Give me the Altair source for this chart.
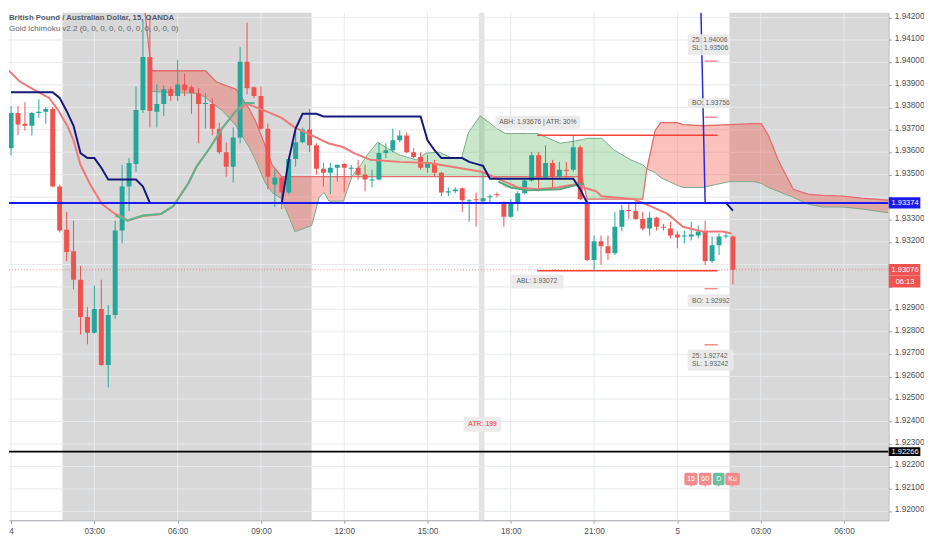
import altair as alt
import pandas as pd

FONT = "Liberation Sans, Arial, sans-serif"
GREEN = "#26a69a"
RED = "#ef5350"

# ---------------- data ----------------
bars = list(range(105))
opens = [1.93618, 1.93775, 1.93727, 1.93718, 1.93775, 1.93780, 1.93793, 1.93447, 1.93255, 1.93159,
         1.93032, 1.92866, 1.92796, 1.92901, 1.92652, 1.92875, 1.93251, 1.93447, 1.93548, 1.93788,
         1.94024, 1.93780, 1.93815, 1.93880, 1.93850, 1.93902, 1.93889, 1.93863, 1.93815, 1.93815,
         1.93705, 1.93600, 1.93535, 1.93666, 1.94003, 1.93889, 1.93850, 1.93705, 1.93456, 1.93487,
         1.93421, 1.93570, 1.93644, 1.93701, 1.93631, 1.93526, 1.93509, 1.93531, 1.93548, 1.93526,
         1.93531, 1.93500, 1.93474, 1.93478, 1.93596, 1.93609, 1.93653, 1.93675, 1.93600, 1.93579,
         1.93531, 1.93552, 1.93509, 1.93421, 1.93426, 1.93439, 1.93382, 1.93391, 1.93382, 1.93399,
         1.93413, 1.93378, 1.93312, 1.93369, 1.93417, 1.93474, 1.93587, 1.93487, 1.93552, 1.93491,
         1.93522, 1.93522, 1.93622, 1.93378, 1.93120, 1.93203, 1.93181, 1.93150, 1.93268, 1.93343,
         1.93338, 1.93303, 1.93260, 1.93308, 1.93268, 1.93260, 1.93233, 1.93225, 1.93225, 1.93229,
         1.93247, 1.93115, 1.93185, 1.93225, 1.93225]
highs = [1.93806, 1.93806, 1.93823, 1.93780, 1.93836, 1.93801, 1.93801, 1.93456, 1.93334, 1.93295,
         1.93094, 1.92910, 1.93006, 1.93032, 1.92919, 1.93295, 1.93544, 1.93574, 1.93893, 1.94186,
         1.94208, 1.93902, 1.93898, 1.93893, 1.94011, 1.93950, 1.93898, 1.93885, 1.93863, 1.93841,
         1.93732, 1.93644, 1.93710, 1.94068, 1.94177, 1.93893, 1.93893, 1.93727, 1.93522, 1.93491,
         1.93579, 1.93697, 1.93710, 1.93793, 1.93640, 1.93552, 1.93552, 1.93544, 1.93552, 1.93544,
         1.93566, 1.93544, 1.93522, 1.93644, 1.93640, 1.93705, 1.93697, 1.93688, 1.93618, 1.93600,
         1.93587, 1.93566, 1.93513, 1.93443, 1.93443, 1.93443, 1.93391, 1.93421, 1.93513, 1.93413,
         1.93421, 1.93382, 1.93391, 1.93426, 1.93478, 1.93600, 1.93600, 1.93631, 1.93566, 1.93557,
         1.93557, 1.93675, 1.93631, 1.93391, 1.93229, 1.93229, 1.93229, 1.93334, 1.93365, 1.93378,
         1.93382, 1.93334, 1.93334, 1.93312, 1.93281, 1.93290, 1.93247, 1.93251, 1.93290, 1.93273,
         1.93295, 1.93225, 1.93238, 1.93247, 1.93229]
lows = [1.93587, 1.93675, 1.93697, 1.93675, 1.93753, 1.93727, 1.93443, 1.93242, 1.93115, 1.92989,
        1.92788, 1.92744, 1.92792, 1.92648, 1.92552, 1.92858, 1.93194, 1.93338, 1.93513, 1.93775,
        1.93710, 1.93710, 1.93762, 1.93828, 1.93828, 1.93850, 1.93771, 1.93640, 1.93705, 1.93675,
        1.93592, 1.93491, 1.93465, 1.93640, 1.93858, 1.93841, 1.93697, 1.93434, 1.93356, 1.93347,
        1.93413, 1.93535, 1.93640, 1.93600, 1.93500, 1.93447, 1.93413, 1.93469, 1.93421, 1.93491,
        1.93478, 1.93426, 1.93443, 1.93474, 1.93574, 1.93600, 1.93644, 1.93596, 1.93574, 1.93522,
        1.93509, 1.93491, 1.93404, 1.93404, 1.93417, 1.93334, 1.93290, 1.93268, 1.93378, 1.93369,
        1.93399, 1.93268, 1.93308, 1.93338, 1.93413, 1.93469, 1.93426, 1.93478, 1.93443, 1.93487,
        1.93487, 1.93513, 1.93386, 1.93115, 1.93076, 1.93098, 1.93120, 1.93142, 1.93247, 1.93303,
        1.93299, 1.93251, 1.93229, 1.93251, 1.93251, 1.93216, 1.93172, 1.93194, 1.93207, 1.93216,
        1.93098, 1.93107, 1.93142, 1.93216, 1.93011]
closes = [1.93775, 1.93723, 1.93718, 1.93775, 1.93780, 1.93793, 1.93447, 1.93251, 1.93155, 1.93032,
          1.92866, 1.92796, 1.92901, 1.92652, 1.92875, 1.93251, 1.93447, 1.93552, 1.93788, 1.94024,
          1.93784, 1.93815, 1.93880, 1.93850, 1.93902, 1.93876, 1.93863, 1.93815, 1.93819, 1.93705,
          1.93600, 1.93535, 1.93666, 1.94003, 1.93885, 1.93850, 1.93705, 1.93491, 1.93487, 1.93421,
          1.93570, 1.93644, 1.93701, 1.93631, 1.93526, 1.93509, 1.93531, 1.93544, 1.93531, 1.93531,
          1.93500, 1.93478, 1.93478, 1.93596, 1.93609, 1.93653, 1.93675, 1.93600, 1.93579, 1.93531,
          1.93552, 1.93509, 1.93421, 1.93426, 1.93434, 1.93386, 1.93386, 1.93386, 1.93395, 1.93404,
          1.93408, 1.93312, 1.93369, 1.93417, 1.93474, 1.93587, 1.93487, 1.93552, 1.93491, 1.93522,
          1.93517, 1.93622, 1.93391, 1.93120, 1.93203, 1.93181, 1.93150, 1.93268, 1.93343, 1.93338,
          1.93303, 1.93260, 1.93308, 1.93268, 1.93264, 1.93229, 1.93220, 1.93229, 1.93233, 1.93247,
          1.93115, 1.93185, 1.93225, 1.93229, 1.93076]

x_tick_pos = [0, 12, 24, 36, 48, 60, 72, 84, 96, 108, 120]
x_tick_labels = ["4", "03:00", "06:00", "09:00", "12:00", "15:00", "18:00", "21:00", "5", "03:00", "06:00"]
y_ticks = [1.920, 1.921, 1.922, 1.923, 1.924, 1.925, 1.926, 1.927, 1.928, 1.929, 1.930, 1.931,
           1.932, 1.933, 1.934, 1.935, 1.936, 1.937, 1.938, 1.939, 1.940, 1.941, 1.942]
y_ticks_hidden = [1.934, 1.931, 1.930]   # covered by the price-scale labels

kijun = [1.93867, 1.93867, 1.93867, 1.93867, 1.93867, 1.93867, 1.93867, 1.93842, 1.93784, 1.93718,
         1.93596, 1.93574, 1.93574, 1.93531, 1.93478, 1.93478, 1.93478, 1.93478, 1.93478, 1.93447,
         1.93374, 1.93374, 1.93374, 1.93374, 1.93374, 1.93374, 1.93374, 1.93374, 1.93374, 1.93374,
         1.93374, 1.93374, 1.93374, 1.93374, 1.93374, 1.93374, 1.93374, 1.93374, 1.93374, 1.93374,
         1.93566, 1.93705, 1.93771, 1.93771, 1.93771, 1.93759, 1.93759, 1.93759, 1.93759, 1.93759,
         1.93759, 1.93759, 1.93759, 1.93759, 1.93759, 1.93759, 1.93759, 1.93759, 1.93759, 1.93759,
         1.93653, 1.93609, 1.93574, 1.93574, 1.93574, 1.93574, 1.93557, 1.93548, 1.93539, 1.93482,
         1.93482, 1.93482, 1.93482, 1.93482, 1.93482, 1.93482, 1.93482, 1.93482, 1.93482, 1.93482,
         1.93482, 1.93482, 1.93435, 1.93374, 1.93374, 1.93374, 1.93374, 1.93374, 1.93374, 1.93374,
         1.93374, 1.93374, 1.93374, 1.93374, 1.93374, 1.93374, 1.93374, 1.93374, 1.93374, 1.93374,
         1.93374, 1.93374, 1.93374, 1.93374, 1.93340]

tenkan_i = [-0.6, 1.25, 2.9, 4.0, 5.5, 6.7, 8.1, 9.0, 10.0, 11.4, 13.1, 15.0, 15.9, 16.8, 19.0, 21.6,
            23.4, 25.6, 26.7, 28.7, 30.5, 32.4, 34.1, 36.6, 39.0, 40.9, 42.8, 45.7, 47.9, 49.4, 51.8,
            56.0, 60.3, 67.8, 69.8, 73.0, 75.9, 78.7, 81.1, 82.5, 84.3, 85.1, 89.7, 92.1, 94.6, 96.8,
            99.6, 102.5, 103.8]
tenkan_p = [1.93972, 1.93915, 1.93886, 1.93867, 1.93842, 1.93791, 1.93718, 1.93653, 1.93544, 1.93456,
            1.93369, 1.93325, 1.93312, 1.93295, 1.93316, 1.93325, 1.93360, 1.93465, 1.93535, 1.93622,
            1.93710, 1.93784, 1.93815, 1.93784, 1.93753, 1.93710, 1.93683, 1.93640, 1.93622, 1.93596,
            1.93566, 1.93557, 1.93552, 1.93513, 1.93487, 1.93443, 1.93435, 1.93443, 1.93456, 1.93443,
            1.93426, 1.93404, 1.93391, 1.93360, 1.93325, 1.93268, 1.93247, 1.93247, 1.93238]

rise_i = [15.0, 16.8, 19.0, 21.6, 23.4, 25.6, 26.7, 28.7, 30.5, 32.4, 33.6, 35.1]
rise_p = [1.93318, 1.93296, 1.93318, 1.93325, 1.93361, 1.93464, 1.93535, 1.93622, 1.93710, 1.93784,
          1.93819, 1.93819]

lag_i = [70.2, 72.0, 74.4, 79.1, 81.1, 82.5]
lag_p = [1.93469, 1.93443, 1.93430, 1.93435, 1.93452, 1.93461]

spike_i = [99.4, 100.0]
spike_p = [1.94221, 1.93374]

cloud1_i = [20.3, 22.7, 26.7, 28.0, 29.5, 30.5, 32.4, 34.3, 35.2, 36.6, 37.6, 39.0, 40.9, 43.3, 44.4,
            45.1, 45.8, 47.9, 49.1]
cloud1_top = [1.93963, 1.93963, 1.93963, 1.93963, 1.93915, 1.93902, 1.93880, 1.93793, 1.93740, 1.93631,
              1.93544, 1.93491, 1.93491, 1.93491, 1.93491, 1.93491, 1.93491, 1.93491, 1.93491]
cloud1_bot = [1.93871, 1.93867, 1.93863, 1.93845, 1.93806, 1.93784, 1.93718, 1.93622, 1.93566, 1.93465,
              1.93421, 1.93391, 1.93246, 1.93273, 1.93399, 1.93421, 1.93382, 1.93382, 1.93491]

cloud2_i = [49.1, 50.4, 51.3, 52.8, 54.2, 56.0, 58.4, 59.8, 61.7, 63.5, 64.9, 65.9, 67.6, 69.8, 71.2,
            72.0, 74.4, 75.9, 79.1, 81.1, 82.5, 83.0, 85.1, 86.9, 89.3, 91.0, 91.6]
cloud2_top = [1.93491, 1.93544, 1.93587, 1.93644, 1.93618, 1.93587, 1.93566, 1.93596, 1.93600, 1.93574,
              1.93574, 1.93688, 1.93762, 1.93710, 1.93683, 1.93683, 1.93683, 1.93683, 1.93640, 1.93649,
              1.93657, 1.93662, 1.93662, 1.93609, 1.93566, 1.93544, 1.93526]
cloud2_bot = [1.93491, 1.93491, 1.93491, 1.93491, 1.93491, 1.93491, 1.93491, 1.93491, 1.93491, 1.93491,
              1.93491, 1.93491, 1.93491, 1.93491, 1.93439, 1.93443, 1.93430, 1.93430, 1.93435, 1.93452,
              1.93461, 1.93391, 1.93391, 1.93391, 1.93391, 1.93391, 1.93526]

cloud3_i = [91.6, 92.8, 93.6, 96.0, 96.8, 99.6, 103.5, 107.0, 108.1, 109.1, 110.5, 112.7, 114.8, 116.9,
            119.8, 122.6, 126.4]
cloud3_top = [1.93526, 1.93697, 1.93732, 1.93732, 1.93723, 1.93718, 1.93723, 1.93727, 1.93727, 1.93675,
              1.93566, 1.93435, 1.93413, 1.93408, 1.93404, 1.93395, 1.93386]
cloud3_bot = [1.93526, 1.93509, 1.93487, 1.93452, 1.93443, 1.93443, 1.93469, 1.93469, 1.93461, 1.93443,
              1.93426, 1.93399, 1.93369, 1.93356, 1.93356, 1.93347, 1.93330]

spanb_head_i = [19.3, 20.0]
spanb_head_p = [1.94221, 1.94024]
spanb_mid_i = [82.2, 83.0, 91.0]
spanb_mid_p = [1.93491, 1.93391, 1.93391]

blue_level = 1.93374
black_level = 1.92266
last_price = 1.93076
abh_level = 1.93676
abl_level = 1.93072
target_levels = [1.94006, 1.93756, 1.92992, 1.92742]

# ---------------- frames / encodings ----------------
candles = pd.DataFrame({"i": bars, "o": opens, "h": highs, "l": lows, "c": closes})
candles["col"] = [GREEN if c >= o else RED for o, c in zip(opens, closes)]

XS = alt.Scale(domain=[-0.3, 126.4], nice=False, zero=False)
YS = alt.Scale(domain=[1.9196, 1.94221], nice=False, zero=False)
AXC = "#9aa0a8"
X_AXIS = alt.Axis(values=x_tick_pos,
                  labelExpr="[" + ",".join(f"'{s}'" for s in x_tick_labels) + "][indexof(["
                            + ",".join(str(v) for v in x_tick_pos) + "], datum.value)]",
                  grid=False, domainColor=AXC, tickColor=AXC, tickSize=3,
                  labelColor="#4b4f56", labelFontSize=8.3, labelFont=FONT, labelPadding=3,
                  title=None, labelFlush=False, labelOverlap=False)
Y_AXIS = alt.Axis(orient="right", values=y_ticks,
                  labelExpr="indexof([" + ",".join(str(v) for v in y_ticks_hidden)
                            + "], datum.value) >= 0 ? '' : format(datum.value, '.5f')",
                  grid=False, domainColor=AXC, tickColor=AXC, tickSize=3,
                  labelColor="#4b4f56", labelFontSize=8.3, labelFont=FONT, labelPadding=3,
                  labelOffset=-1.5,
                  title=None, labelOverlap=False, labelFlush=False)


def X(f):
    return alt.X(f"{f}:Q", scale=XS, axis=X_AXIS)


def Y(f):
    return alt.Y(f"{f}:Q", scale=YS, axis=Y_AXIS)


layers = []

# session shading
sessions = pd.DataFrame({"x1": [7.4, 67.4, 103.5], "x2": [43.3, 68.2, 126.4],
                         "fill": ["#d8d8d8", "#e3e3e3", "#d8d8d8"]})
layers.append(alt.Chart(sessions).mark_rect().encode(
    x=X("x1"), x2="x2", color=alt.Color("fill:N", scale=None)))

# grid
layers.append(alt.Chart(pd.DataFrame({"p": y_ticks})).mark_rule(color="#e6eaee", strokeWidth=1).encode(y=Y("p")))
layers.append(alt.Chart(pd.DataFrame({"i": x_tick_pos})).mark_rule(color="#e6eaee", strokeWidth=1).encode(x=X("i")))

# clouds
for ci, ct, cb, colr, op in [(cloud1_i, cloud1_top, cloud1_bot, "#f44336", 0.33),
                             (cloud2_i, cloud2_top, cloud2_bot, "#4caf50", 0.3),
                             (cloud3_i, cloud3_top, cloud3_bot, "#f44336", 0.33)]:
    dfc = pd.DataFrame({"i": ci, "t": ct, "b": cb})
    layers.append(alt.Chart(dfc).mark_area(color=colr, opacity=op, clip=True).encode(
        x=X("i"), y=Y("t"), y2="b"))

spana = pd.DataFrame({"i": cloud1_i + cloud2_i[1:] + cloud3_i[1:],
                      "p": cloud1_bot + cloud2_top[1:] + cloud3_bot[1:]})
spanb = pd.DataFrame({"i": spanb_head_i + cloud1_i + spanb_mid_i + cloud3_i,
                      "p": spanb_head_p + cloud1_top + spanb_mid_p + cloud3_top})
layers.append(alt.Chart(spana).mark_line(color="#79a98a", strokeWidth=1, clip=True).encode(x=X("i"), y=Y("p")))
layers.append(alt.Chart(spanb).mark_line(color="#e36c6c", strokeWidth=1.3, clip=True).encode(x=X("i"), y=Y("p")))

# ABH / ABL lines and target ticks
ab = pd.DataFrame({"x1": [75.8, 75.8], "x2": [101.8, 101.8], "p": [abh_level, abl_level]})
layers.append(alt.Chart(ab).mark_rule(color="#f44336", strokeWidth=1.5).encode(x=X("x1"), x2="x2", y=Y("p")))
tg = pd.DataFrame({"x1": [99.9] * 4, "x2": [101.8] * 4, "p": target_levels})
layers.append(alt.Chart(tg).mark_rule(color="#f28b8b", strokeWidth=1.5).encode(x=X("x1"), x2="x2", y=Y("p")))

# last price dotted
layers.append(alt.Chart(pd.DataFrame({"p": [last_price]})).mark_rule(
    color="#ef5350", strokeWidth=1, strokeDash=[1, 2], opacity=0.7).encode(y=Y("p")))

# candles
layers.append(alt.Chart(candles).mark_rule(strokeWidth=1, clip=True).encode(
    x=X("i"), y=Y("l"), y2="h", color=alt.Color("col:N", scale=None)))
layers.append(alt.Chart(candles).mark_rule(strokeWidth=5, clip=True).encode(
    x=X("i"), y=Y("o"), y2="c", color=alt.Color("col:N", scale=None)))

# indicator lines
layers.append(alt.Chart(pd.DataFrame({"i": tenkan_i, "p": tenkan_p})).mark_line(
    color="#f07878", strokeWidth=2, clip=True).encode(x=X("i"), y=Y("p")))
layers.append(alt.Chart(pd.DataFrame({"i": rise_i, "p": rise_p})).mark_line(
    color="#5db58f", strokeWidth=2, clip=True).encode(x=X("i"), y=Y("p")))
layers.append(alt.Chart(pd.DataFrame({"i": lag_i, "p": lag_p})).mark_line(
    color="#55a57f", strokeWidth=2, clip=True).encode(x=X("i"), y=Y("p")))
layers.append(alt.Chart(pd.DataFrame({"i": bars, "p": kijun})).mark_line(
    color="#141a7c", strokeWidth=2, clip=True).encode(x=X("i"), y=Y("p")))
layers.append(alt.Chart(pd.DataFrame({"i": spike_i, "p": spike_p})).mark_line(
    color="#2b2bd9", strokeWidth=1.5, clip=True).encode(x=X("i"), y=Y("p")))

# horizontal levels
lv = pd.DataFrame({"p": [blue_level, black_level], "col": ["#1a1aeb", "#000000"]})
layers.append(alt.Chart(lv).mark_rule(strokeWidth=2).encode(y=Y("p"), color=alt.Color("col:N", scale=None)))

# annotation boxes (layout)
boxes = pd.DataFrame({
    "x1": [97.5, 97.5, 97.5, 97.5, 69.8, 71.9, 65.2],
    "x2": [103.6, 103.6, 103.6, 104.1, 82.0, 79.6, 70.6],
    "y1": [1.94032, 1.93796, 1.92910, 1.92626, 1.93705, 1.92993, 1.92355],
    "y2": [1.94126, 1.93840, 1.92967, 1.92721, 1.93762, 1.93054, 1.92421]})
layers.append(alt.Chart(boxes).mark_rect(color="#e9e9e9", opacity=0.92, cornerRadius=2).encode(
    x=X("x1"), x2="x2", y=Y("y1"), y2="y2"))
left_txt = pd.DataFrame({
    "t": ["25: 1.94006", "SL: 1.93506", "BO: 1.93756", "BO: 1.92992", "25: 1.92742", "SL: 1.93242"],
    "x": [98.1] * 6,
    "y": [1.94102, 1.94064, 1.93818, 1.92939, 1.92691, 1.92657]})
layers.append(alt.Chart(left_txt).mark_text(align="left", baseline="middle", font=FONT, fontSize=6.8,
                                            color="#5e5e5e").encode(x=X("x"), y=Y("y"), text="t:N"))
ctr_txt = pd.DataFrame({"t": ["ABH: 1.93676 | ATR: 30%", "ABL: 1.93072"], "x": [75.9, 75.75],
                        "y": [1.93734, 1.93024]})
layers.append(alt.Chart(ctr_txt).mark_text(align="center", baseline="middle", font=FONT, fontSize=6.8,
                                           color="#5e5e5e").encode(x=X("x"), y=Y("y"), text="t:N"))
layers.append(alt.Chart(pd.DataFrame({"t": ["ATR: 199"], "x": [67.9], "y": [1.92388]})).mark_text(
    align="center", baseline="middle", font=FONT, fontSize=6.8, fontWeight="bold", color="#f26b6b").encode(
    x=X("x"), y=Y("y"), text="t:N"))

# small buttons
btn = pd.DataFrame({"x1": [97.0, 99.1, 101.1, 102.9], "x2": [98.9, 100.9, 102.8, 105.0],
                    "y1": [1.92116] * 4, "y2": [1.92172] * 4,
                    "fill": ["#f28b8b", "#f28b8b", "#6cbf9c", "#f28b8b"],
                    "t": ["15", "60", "D", "Ku"], "tx": [97.95, 100.0, 101.95, 103.95], "ty": [1.92144] * 4})
layers.append(alt.Chart(btn).mark_rect(cornerRadius=2).encode(
    x=X("x1"), x2="x2", y=Y("y1"), y2="y2", color=alt.Color("fill:N", scale=None)))
layers.append(alt.Chart(btn).mark_point(shape="triangle-down", filled=True, size=14, opacity=1).encode(
    x=X("tx"), y=Y("y1"), color=alt.Color("fill:N", scale=None)))
layers.append(alt.Chart(btn).mark_text(align="center", baseline="middle", font=FONT, fontSize=7,
                                       color="white").encode(x=X("tx"), y=Y("ty"), text="t:N"))

# price-scale labels
axb = pd.DataFrame({"x1": [126.45] * 4, "x2": [131.0] * 4,
                    "y1": [1.93349, 1.93050, 1.92997, 1.92246],
                    "y2": [1.93399, 1.93102, 1.93049, 1.92286],
                    "fill": ["#1a1aeb", "#ef5350", "#ef5350", "#000000"],
                    "t": ["1.93374", "1.93076", "06:13", "1.92266"],
                    "tx": [128.8] * 4, "ty": [1.93374, 1.93076, 1.93023, 1.92262]})
layers.append(alt.Chart(axb).mark_rect(clip=False).encode(
    x=X("x1"), x2="x2", y=Y("y1"), y2="y2", color=alt.Color("fill:N", scale=None)))
layers.append(alt.Chart(axb).mark_text(align="center", baseline="middle", font=FONT, fontSize=7.6,
                                       color="white").encode(x=X("tx"), y=Y("ty"), text="t:N"))

# header texts
hdr = pd.DataFrame({"t": ["British Pound / Australian Dollar, 15, OANDA",
                          "Gold Ichimoku v2.2 (0, 0, 0, 0, 0, 0, 0, 0, 0, 0, 0)"]})
layers.append(alt.Chart(hdr.iloc[[0]]).mark_text(align="left", baseline="middle", font=FONT, fontSize=7.9,
                                                 fontWeight="bold", color="#515b68").encode(
    x=alt.value(0), y=alt.value(5), text="t:N"))
layers.append(alt.Chart(hdr.iloc[[1]]).mark_text(align="left", baseline="middle", font=FONT, fontSize=8.1,
                                                 color="#5d6672").encode(
    x=alt.value(0), y=alt.value(16), text="t:N"))

chart = alt.layer(*layers).properties(width=889, height=513, padding=0, background="white").configure_view(
    stroke=None)

chart.save("out.html", embed_options={"renderer": "svg", "actions": False})
